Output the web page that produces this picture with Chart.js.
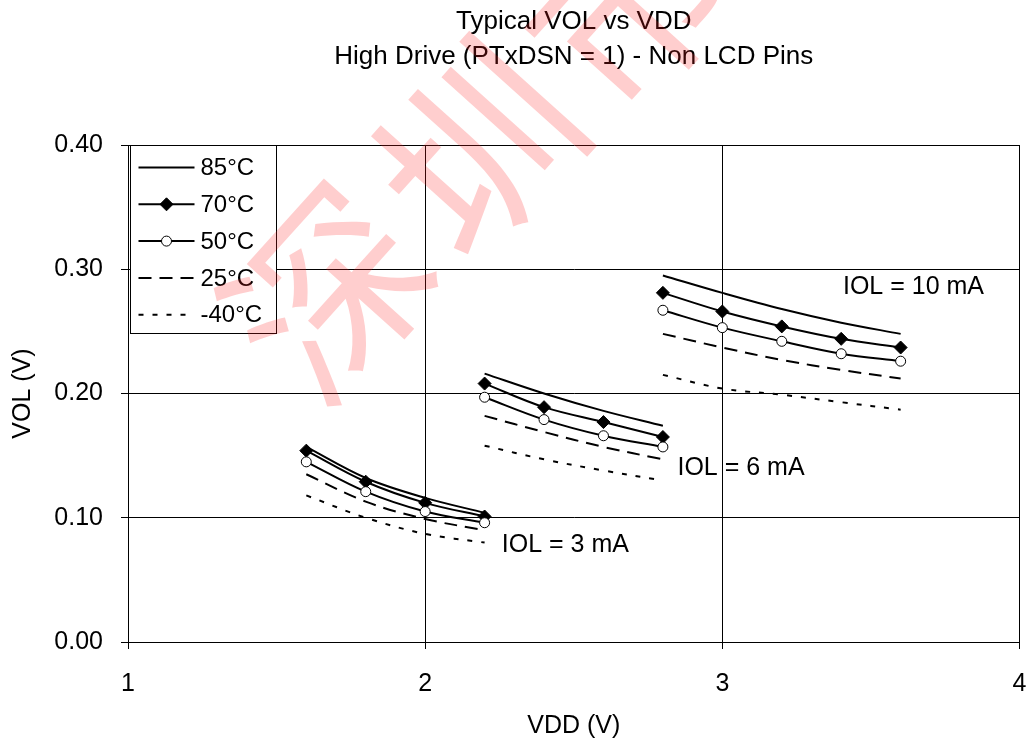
<!DOCTYPE html>
<html>
<head>
<meta charset="utf-8">
<title>Typical VOL vs VDD</title>
<script src="https://cdn.jsdelivr.net/npm/chart.js@4.4.1/dist/chart.umd.min.js"></script>
<style>
  html, body { margin: 0; padding: 0; background: #fff; }
  #wrap { width: 1027px; height: 741px; }
</style>
</head>
<body>
<div id="wrap"><canvas id="chart" width="1027" height="741"></canvas></div>
<script>
// Supply voltage points for each output-current group
const vdd3mA  = [1.6, 1.8, 2.0, 2.2];
const vdd6mA  = [2.2, 2.4, 2.6, 2.8];
const vdd10mA = [2.8, 3.0, 3.2, 3.4, 3.6];

// Temperature series labels
const tempLabels = ['85°C', '70°C', '50°C', '25°C', '-40°C'];

// VOL (V) at IOL = 3 mA
const vol3mA_85  = [0.157, 0.132, 0.116, 0.104];
const vol3mA_70  = [0.154, 0.129, 0.112, 0.101];
const vol3mA_50  = [0.145, 0.121, 0.105, 0.096];
const vol3mA_25  = [0.135, 0.113, 0.099, 0.090];
const vol3mA_m40 = [0.118, 0.100, 0.087, 0.080];

// VOL (V) at IOL = 6 mA
const vol6mA_85  = [0.216, 0.200, 0.186, 0.174];
const vol6mA_70  = [0.208, 0.189, 0.177, 0.165];
const vol6mA_50  = [0.197, 0.179, 0.166, 0.157];
const vol6mA_25  = [0.182, 0.169, 0.157, 0.147];
const vol6mA_m40 = [0.158, 0.147, 0.138, 0.130];

// VOL (V) at IOL = 10 mA
const vol10mA_85  = [0.295, 0.281, 0.268, 0.257, 0.248];
const vol10mA_70  = [0.281, 0.266, 0.254, 0.244, 0.237];
const vol10mA_50  = [0.267, 0.253, 0.242, 0.232, 0.226];
const vol10mA_25  = [0.248, 0.237, 0.227, 0.219, 0.212];
const vol10mA_m40 = [0.215, 0.204, 0.199, 0.193, 0.187];

// Group labels and their anchor (left edge x, centre y) in data units
const groupLabels = ['IOL = 3 mA', 'IOL = 6 mA', 'IOL = 10 mA'];
const groupLabelX = [2.258, 2.849, 3.406];
const groupLabelY = [0.078, 0.140, 0.2857];

// Axis tick values
const yTicks = [0.00, 0.10, 0.20, 0.30, 0.40];
const xTicks = [1, 2, 3, 4];

const FONT = '"Liberation Sans", Arial, Helvetica, sans-serif';

// Line styles per temperature
const styles = [
  { borderDash: [],      pointStyle: 'circle',  radius: 0,   fill: '#000' },
  { borderDash: [],      pointStyle: 'rectRot', radius: 6.5, fill: '#000' },
  { borderDash: [],      pointStyle: 'circle',  radius: 5,   fill: '#fff' },
  { borderDash: [13, 8], pointStyle: 'circle',  radius: 0,   fill: '#000' },
  { borderDash: [5, 9],  pointStyle: 'circle',  radius: 0,   fill: '#000' }
];

const groups = [
  { x: vdd3mA,  series: [vol3mA_85,  vol3mA_70,  vol3mA_50,  vol3mA_25,  vol3mA_m40] },
  { x: vdd6mA,  series: [vol6mA_85,  vol6mA_70,  vol6mA_50,  vol6mA_25,  vol6mA_m40] },
  { x: vdd10mA, series: [vol10mA_85, vol10mA_70, vol10mA_50, vol10mA_25, vol10mA_m40] }
];

const datasets = [];
groups.forEach((g) => {
  g.series.forEach((vals, ti) => {
    const s = styles[ti];
    datasets.push({
      label: tempLabels[ti],
      data: vals.map((v, i) => ({ x: g.x[i], y: v })),
      showLine: true,
      borderColor: '#000',
      borderWidth: 2,
      borderDash: s.borderDash,
      tension: 0.35,
      pointStyle: s.pointStyle,
      pointRadius: s.radius,
      pointHoverRadius: s.radius,
      pointBackgroundColor: s.fill,
      pointBorderColor: '#000',
      pointBorderWidth: 1,
      order: 5 - ti
    });
  });
});

// Plain white page behind the chart
const whiteBackground = {
  id: 'whiteBackground',
  beforeDraw(chart) {
    const ctx = chart.ctx;
    ctx.save();
    ctx.fillStyle = '#fff';
    ctx.fillRect(0, 0, chart.width, chart.height);
    ctx.restore();
  }
};

// Group annotations next to each family of curves
const groupText = {
  id: 'groupText',
  afterDatasetsDraw(chart) {
    const { ctx, scales: { x, y } } = chart;
    ctx.save();
    ctx.font = '25px ' + FONT;
    ctx.fillStyle = '#000';
    ctx.textAlign = 'left';
    ctx.textBaseline = 'middle';
    groupLabels.forEach((t, i) => {
      ctx.fillText(t, x.getPixelForValue(groupLabelX[i]), y.getPixelForValue(groupLabelY[i]));
    });
    ctx.restore();
  }
};

// Boxed legend in the upper-left corner of the plot
const boxedLegend = {
  id: 'boxedLegend',
  afterDatasetsDraw(chart) {
    const ctx = chart.ctx;
    const area = chart.chartArea;
    const left = area.left + 2.5, top = area.top + 0.5, w = 146, h = 188;
    ctx.save();
    ctx.fillStyle = '#fff';
    ctx.fillRect(left, top, w, h);
    ctx.strokeStyle = '#000';
    ctx.lineWidth = 1;
    ctx.strokeRect(left, top, w, h);
    ctx.font = '24px ' + FONT;
    ctx.textAlign = 'left';
    ctx.textBaseline = 'middle';
    tempLabels.forEach((lab, i) => {
      const ds = chart.data.datasets[i];
      const yy = top + 22 + i * 36.8;
      const x0 = left + 8, x1 = left + 64;
      ctx.save();
      ctx.strokeStyle = '#000';
      ctx.lineWidth = 2;
      ctx.setLineDash(ds.borderDash);
      ctx.beginPath();
      ctx.moveTo(x0, yy);
      ctx.lineTo(x1, yy);
      ctx.stroke();
      ctx.restore();
      if (ds.pointRadius > 0) {
        ctx.save();
        ctx.fillStyle = ds.pointBackgroundColor;
        ctx.strokeStyle = '#000';
        ctx.lineWidth = 1;
        Chart.helpers.drawPoint(ctx, { pointStyle: ds.pointStyle, radius: ds.pointRadius, borderWidth: 1, rotation: 0 }, (x0 + x1) / 2, yy);
        ctx.restore();
      }
      ctx.fillStyle = '#000';
      ctx.fillText(lab, left + 70, yy + 1);
    });
    ctx.restore();
  }
};

// Faint diagonal stamp across the upper plot
const stamp = {
  id: 'stamp',
  afterDraw(chart) {
    const ctx = chart.ctx;
    const chars = ['深', '圳', '市'];
    const cx = [328, 478, 628];
    const cy = [292, 148, 4];
    ctx.save();
    ctx.font = '195px "Noto Sans CJK SC"';
    ctx.fillStyle = 'rgba(255, 30, 30, 0.22)';
    ctx.textAlign = 'center';
    ctx.textBaseline = 'middle';
    chars.forEach((c, i) => {
      ctx.save();
      ctx.translate(cx[i], cy[i]);
      ctx.rotate(-48 * Math.PI / 180);
      ctx.fillText(c, 0, 0);
      ctx.restore();
    });
    ctx.restore();
  }
};

new Chart(document.getElementById('chart'), {
  type: 'scatter',
  data: { datasets },
  plugins: [whiteBackground, groupText, boxedLegend, stamp],
  options: {
    responsive: false,
    animation: false,
    events: [],
    layout: { padding: { left: 0, right: 6, top: 0, bottom: 0 } },
    plugins: {
      legend: { display: false },
      tooltip: { enabled: false },
      title: {
        display: true,
        fullSize: false,
        text: ['Typical VOL vs VDD', 'High Drive (PTxDSN = 1) - Non LCD Pins'],
        color: '#000',
        font: { family: FONT, size: 26, weight: 'normal', lineHeight: 35 / 26 },
        padding: { top: 4, bottom: 71 }
      }
    },
    scales: {
      x: {
        type: 'linear',
        min: 1, max: 4,
        afterFit(scale) {
          scale.height = 99;
          scale.paddingLeft = 0;
          scale.paddingRight = 6;
        },
        afterBuildTicks(scale) { scale.ticks = xTicks.map(v => ({ value: v })); },
        ticks: {
          color: '#000',
          padding: 20,
          font: { family: FONT, size: 25 },
          callback: v => String(v)
        },
        grid: { color: '#000', lineWidth: 1, tickLength: 7, tickColor: '#000' },
        border: { color: '#000', width: 1 },
        title: {
          display: true, text: 'VDD (V)', color: '#000',
          font: { family: FONT, size: 25 },
          padding: { top: 0, bottom: 0 }
        }
      },
      y: {
        type: 'linear',
        min: 0, max: 0.4,
        afterFit(scale) { scale.width = 128; },
        afterBuildTicks(scale) { scale.ticks = yTicks.map(v => ({ value: v })); },
        ticks: {
          color: '#000',
          padding: 18,
          font: { family: FONT, size: 25 },
          callback: v => Number(v).toFixed(2)
        },
        grid: { color: '#000', lineWidth: 1, tickLength: 7, tickColor: '#000' },
        border: { color: '#000', width: 1 },
        title: {
          display: true, text: 'VOL (V)', color: '#000',
          font: { family: FONT, size: 25 },
          padding: { top: 8, bottom: 0 }
        }
      }
    }
  }
});
</script>
</body>
</html>
